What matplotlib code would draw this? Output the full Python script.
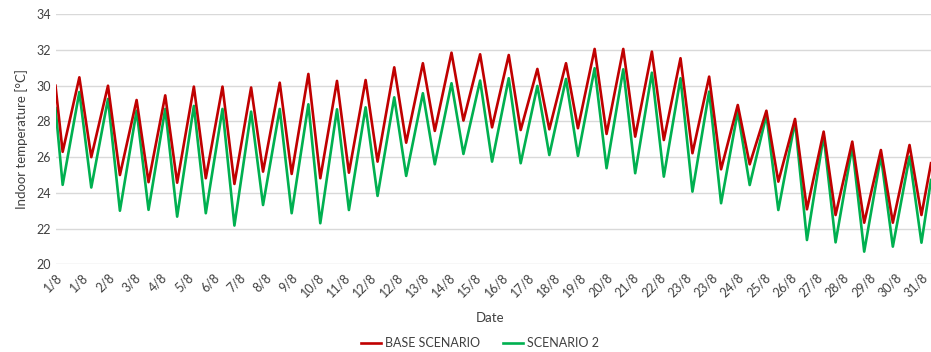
#!/usr/bin/env python3
"""
Indoor temperature in August: base scenario vs scenario 2 (hourly, daily extremes).
"""

import matplotlib.pyplot as plt
import numpy as np

plt.rcParams['font.family'] = ['Lato', 'DejaVu Sans']

# daily extremes (°C), index 0 = 1 August
red_start, red_end = 30.0, 25.66
green_start, green_end = 28.75, 24.72
red_min = [26.3, 26.0, 25.0, 24.6, 24.57, 24.82, 24.5, 25.19, 25.06, 24.82,
           25.13, 25.75, 26.81, 27.47, 28.05, 27.67, 27.52, 27.56, 27.62, 27.30,
           27.15, 26.96, 26.22, 25.32, 25.6, 24.63, 23.08, 22.76, 22.33, 22.33, 22.76]
red_max = [30.47, 30.0, 29.2, 29.46, 29.95, 29.95, 29.9, 30.17, 30.66, 30.27,
           30.32, 31.03, 31.26, 31.85, 31.76, 31.72, 30.94, 31.26, 32.06, 32.06,
           31.91, 31.54, 30.51, 28.92, 28.6, 28.14, 27.43, 26.87, 26.4, 26.68]
green_min = [24.45, 24.3, 23.0, 23.05, 22.67, 22.86, 22.17, 23.32, 22.86, 22.3,
             23.04, 23.83, 24.95, 25.6, 26.18, 25.75, 25.66, 26.12, 26.07, 25.38,
             25.1, 24.91, 24.07, 23.42, 24.44, 23.04, 21.36, 21.23, 20.71, 20.99, 21.21]
green_max = [29.65, 29.26, 28.6, 28.7, 28.87, 28.7, 28.55, 28.7, 28.96, 28.68,
             28.79, 29.35, 29.58, 30.14, 30.29, 30.42, 29.99, 30.38, 30.98, 30.92,
             30.73, 30.42, 29.67, 28.55, 28.36, 27.99, 27.2, 26.59, 26.07, 26.03]

# hour of day for the daily minimum and maximum, last visible hour
min_hour, max_hour = 6, 20
last_hour = 734

tick_labels = ["1/8", "1/8", "2/8", "3/8", "4/8", "5/8", "6/8", "7/8", "8/8", "9/8",
               "10/8", "11/8", "12/8", "12/8", "13/8", "14/8", "15/8", "16/8", "17/8",
               "18/8", "19/8", "20/8", "21/8", "22/8", "23/8", "23/8", "24/8", "25/8",
               "26/8", "27/8", "28/8", "29/8", "30/8", "31/8"]
tick_step = 22  # hours between labels


def build(start, mins, maxs, end):
    hours, vals = [0], [start]
    for d in range(len(mins)):
        hours.append(d * 24 + min_hour)
        vals.append(mins[d])
        if d < len(maxs):
            hours.append(d * 24 + max_hour)
            vals.append(maxs[d])
    hours.append(last_hour)
    vals.append(end)
    return np.array(hours), np.array(vals)


fig = plt.figure(figsize=(9.31, 3.52), dpi=100)
ax = fig.add_axes([55.5 / 931, 1 - 264.3 / 352, 1 - 55.5 / 931, (264.3 - 14.3) / 352])

h, r = build(red_start, red_min, red_max, red_end)
ax.plot(h, r, color='#C00000', lw=1.9, solid_joinstyle='round', label='BASE SCENARIO', zorder=3)
h, g = build(green_start, green_min, green_max, green_end)
ax.plot(h, g, color='#00B050', lw=1.9, solid_joinstyle='round', label='SCENARIO 2', zorder=2)

ax.set_xlim(0, last_hour)
ax.set_ylim(20, 34)
ax.set_yticks(np.arange(20, 35, 2))
ax.set_xticks(np.arange(len(tick_labels)) * tick_step)
ax.set_xticklabels(tick_labels, rotation=45, ha='right', rotation_mode='anchor')
ax.grid(True, axis='y', color='#D9D9D9', lw=1)
ax.set_axisbelow(True)
for s in ax.spines.values():
    s.set_visible(False)
ax.tick_params(axis='both', length=0, labelsize=9, colors='#404040')
ax.tick_params(axis='x', pad=5)

ax.set_ylabel('Indoor temperature [°C]', fontsize=9.5, color='#404040', labelpad=6)
fig.text(490 / 931, 1 - 318 / 352, 'Date', ha='center', va='center', fontsize=9.5, color='#404040')

fig.legend(loc='center', bbox_to_anchor=(480 / 931, 1 - 343 / 352), ncol=2, frameon=False,
           fontsize=9, handlelength=1.6, columnspacing=1.8, handletextpad=0.3,
           labelcolor='#404040')

fig.savefig('out.png', dpi=100)
plt.close(fig)
